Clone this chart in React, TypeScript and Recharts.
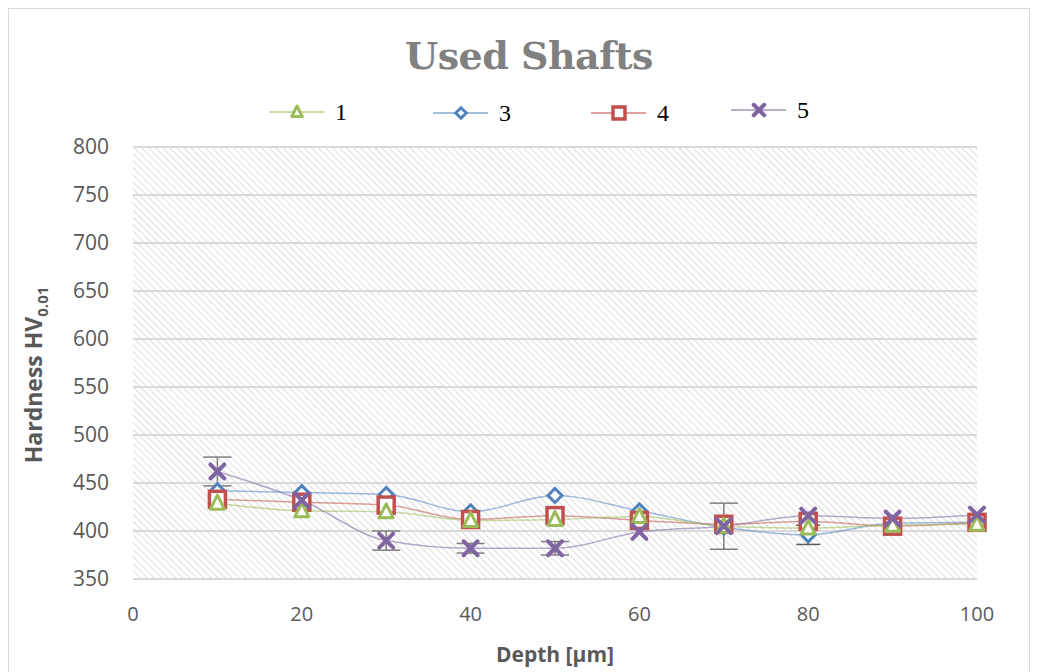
import { LineChart, Line, XAxis, YAxis, CartesianGrid, ErrorBar, Label } from "recharts";

// depth of each indent, µm
const depth = [10, 20, 30, 40, 50, 60, 70, 80, 90, 100];

// hardness per shaft
const shaft1 = [429, 421, 420, 411, 412, 415, 405, 403, 406, 407];
const shaft3 = [442, 440, 438, 420, 437, 421, 404, 396, 408, 409];
const shaft4 = [433, 430, 427, 412, 416, 411, 407, 410, 405, 409];
const shaft5 = [462, 432, 390, 382, 382, 399, 405, 416, 413, 417];

// scatter of the measurements
const err3 = [0, 0, 0, 0, 0, 0, 0, 10, 0, 0];
const err5 = [15, 0, 10, 5, 7, 0, 24, 0, 0, 0];

const xTicks = [0, 20, 40, 60, 80, 100];
const yTicks = [350, 400, 450, 500, 550, 600, 650, 700, 750, 800];

const data = depth.map((d, i) => ({
    depth: d,
    s1: shaft1[i],
    s3: shaft3[i],
    s4: shaft4[i],
    s5: shaft5[i],
    e3: err3[i],
    e5: err5[i],
}));

const GREEN = "#9bbb59";
const BLUE = "#4f81bd";
const RED = "#c0504d";
const PURPLE = "#8064a2";

const Triangle = ({ cx, cy, s = 1 }: any) => (
    <polygon
        points={`${cx},${cy - 8 * s} ${cx - 7 * s},${cy + 6 * s} ${cx + 7 * s},${cy + 6 * s}`}
        fill="#fff"
        stroke={GREEN}
        strokeWidth={3}
        strokeLinejoin="round"
    />
);

const Diamond = ({ cx, cy, s = 1 }: any) => (
    <polygon
        points={`${cx},${cy - 7 * s} ${cx + 7 * s},${cy} ${cx},${cy + 7 * s} ${cx - 7 * s},${cy}`}
        fill="#fff"
        stroke={BLUE}
        strokeWidth={3}
    />
);

const Square = ({ cx, cy, s = 1 }: any) => (
    <rect x={cx - 8 * s} y={cy - 8 * s} width={16 * s} height={16 * s} fill="#fff" stroke={RED} strokeWidth={3.5} />
);

const Cross = ({ cx, cy, s = 1 }: any) => (
    <g stroke={PURPLE} strokeWidth={4} strokeLinecap="round">
        <line x1={cx - 7 * s} y1={cy - 7 * s} x2={cx + 7 * s} y2={cy + 7 * s} />
        <line x1={cx - 7 * s} y1={cy + 7 * s} x2={cx + 7 * s} y2={cy - 7 * s} />
    </g>
);

const dotOf = (Shape: any) => (props: any) =>
    props.cx == null ? null : <Shape key={`d-${props.index}`} cx={props.cx} cy={props.cy} />;

const legendItems = [
    { name: "1", color: GREEN, Shape: Triangle, x: 268, y: 111 },
    { name: "3", color: BLUE, Shape: Diamond, x: 432, y: 112 },
    { name: "4", color: RED, Shape: Square, x: 590, y: 112 },
    { name: "5", color: PURPLE, Shape: Cross, x: 730, y: 109 },
];

const renderYLabel = () => (
    <text
        x={0}
        y={0}
        transform="translate(33, 366) rotate(-90)"
        textAnchor="middle"
        fill="#595959"
        fontFamily="'Open Sans', sans-serif"
        fontWeight="bold"
        fontSize={23}
    >
        Hardness HV
        <tspan fontSize={15} dy={6}>0.01</tspan>
    </text>
);

export default function App() {
    return (
        <div
            style={{
                position: "relative",
                width: 1022,
                height: 680,
                border: "1px solid #d9d9d9",
                boxSizing: "border-box",
                background: "#fff",
            }}
        >
            <div
                style={{
                    position: "absolute",
                    left: 9,
                    width: 1022,
                    top: 24,
                    textAlign: "center",
                    fontFamily: "'DejaVu Serif', serif",
                    fontWeight: "bold",
                    fontSize: 38,
                    color: "#808080",
                    letterSpacing: -0.5,
                }}
            >
                Used Shafts
            </div>
            <svg style={{ position: "absolute", left: -8, top: -8 }} width={1030} height={140}>
                {legendItems.map((it) => (
                    <g key={it.name}>
                        <line x1={it.x} x2={it.x + 55} y1={it.y} y2={it.y} stroke={it.color} strokeWidth={1.5} strokeOpacity={0.7} />
                        <it.Shape cx={it.x + 28} cy={it.y} s={0.75} />
                        <text x={it.x + 66} y={it.y + 8} fontFamily="'Liberation Serif', serif" fontSize={24} fill="#000">
                            {it.name}
                        </text>
                    </g>
                ))}
            </svg>
            <LineChart
                width={1020}
                height={670}
                data={data}
                margin={{ top: 138, right: 52, bottom: 70, left: 60 }}
                style={{ position: "absolute", left: 0, top: 0 }}
            >
                <defs>
                    <pattern id="hatch" width={5} height={5} patternUnits="userSpaceOnUse" patternTransform="rotate(-45)">
                        <line x1={0} y1={0} x2={0} y2={5} stroke="#c4c4c4" strokeWidth={1.2} />
                    </pattern>
                </defs>
                <CartesianGrid vertical={false} stroke="#d9d9d9" strokeWidth={2} fill="url(#hatch)" fillOpacity={1} />
                <XAxis
                    type="number"
                    dataKey="depth"
                    domain={[0, 100]}
                    ticks={xTicks}
                    axisLine={false}
                    tickLine={false}
                    tickMargin={22}
                    tick={{ fill: "#595959", fontSize: 20, fontFamily: "'Open Sans', sans-serif" }}
                    height={30}
                >
                    <Label
                        value="Depth [µm]"
                        position="bottom"
                        offset={38}
                        fill="#595959"
                        fontWeight="bold"
                        fontSize={21}
                        fontFamily="'Open Sans', sans-serif"
                    />
                </XAxis>
                <YAxis
                    type="number"
                    domain={[350, 800]}
                    ticks={yTicks}
                    axisLine={false}
                    tickLine={false}
                    tickMargin={18}
                    tick={{ fill: "#595959", fontSize: 21, fontFamily: "'Open Sans', sans-serif" }}
                    width={64}
                >
                    <Label content={renderYLabel} />
                </YAxis>
                <Line type="monotone" dataKey="s3" stroke={BLUE} strokeOpacity={0.55} strokeWidth={1.5} dot={dotOf(Diamond)} isAnimationActive={false}>
                    <ErrorBar dataKey="e3" direction="y" width={12} stroke="#595959" strokeWidth={1.5} />
                </Line>
                <Line type="monotone" dataKey="s4" stroke={RED} strokeOpacity={0.55} strokeWidth={1.5} dot={dotOf(Square)} isAnimationActive={false} />
                <Line type="monotone" dataKey="s1" stroke={GREEN} strokeOpacity={0.55} strokeWidth={1.5} dot={dotOf(Triangle)} isAnimationActive={false} />
                <Line type="monotone" dataKey="s5" stroke={PURPLE} strokeOpacity={0.55} strokeWidth={1.5} dot={dotOf(Cross)} isAnimationActive={false}>
                    <ErrorBar dataKey="e5" direction="y" width={14} stroke="#7f7f7f" strokeWidth={1.5} />
                </Line>
            </LineChart>
        </div>
    );
}
